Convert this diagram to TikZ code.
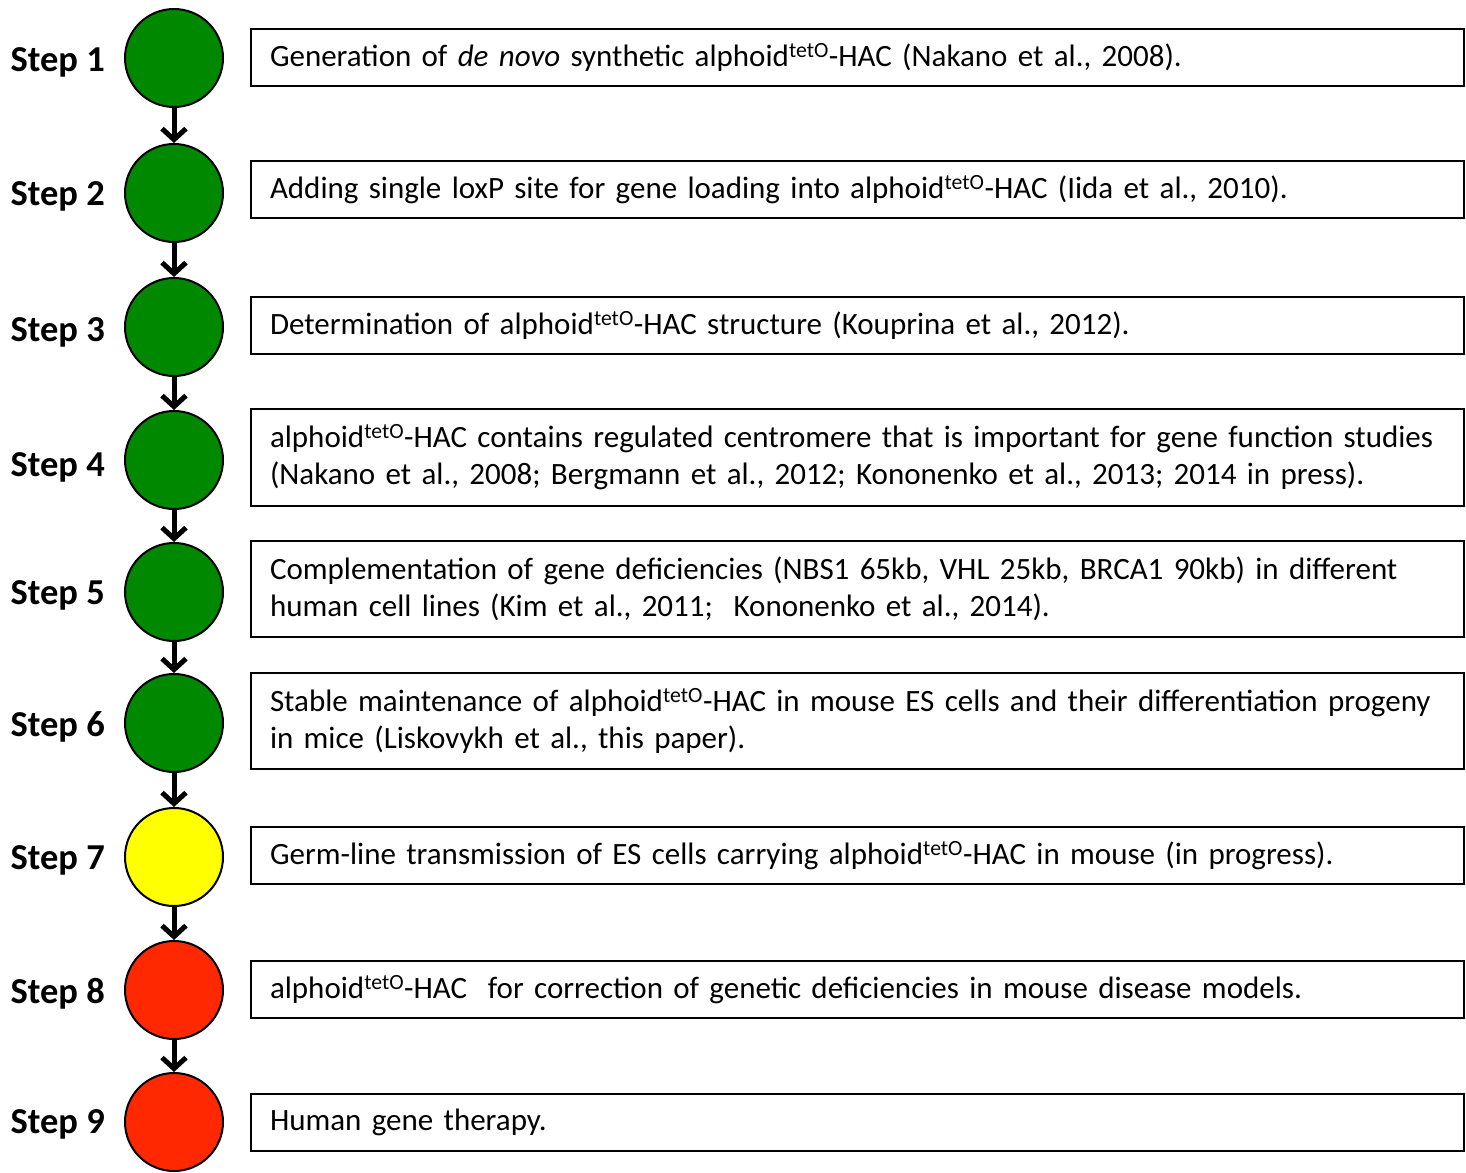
\documentclass[tikz,border=0pt]{standalone}
\usepackage{fontspec}
\setmainfont{Carlito}
\usetikzlibrary{arrows.meta}
\definecolor{sgreen}{RGB}{0,136,0}
\definecolor{syellow}{RGB}{255,255,0}
\definecolor{sred}{RGB}{255,40,0}
\tikzset{
  stepcirc/.style={circle, draw=black, line width=2pt, minimum size=98pt, inner sep=0pt},
  steplabel/.style={anchor=east, font=\fontsize{36.5}{40}\selectfont\bfseries, inner sep=0pt},
  stepbox/.style={draw=black, line width=2pt, anchor=north west, minimum width=1213pt,
    text width=1175pt, inner xsep=19pt, align=left, font=\fontsize{31}{37}\selectfont},
  steparrow/.style={line width=5pt, -{Straight Barb[length=11pt,width=24pt,line width=5pt]}}
}
\newcommand{\tet}{\textsuperscript{tetO}}
\begin{document}
\begin{tikzpicture}[x=1pt,y=-1pt]
\useasboundingbox (0,0) rectangle (1466,1172);
% circles
\node[stepcirc, fill=sgreen] (c1) at (174,58) {};
\node[stepcirc, fill=sgreen] (c2) at (174,193) {};
\node[stepcirc, fill=sgreen] (c3) at (174,327) {};
\node[stepcirc, fill=sgreen] (c4) at (174,460) {};
\node[stepcirc, fill=sgreen] (c5) at (174,592) {};
\node[stepcirc, fill=sgreen] (c6) at (174,723) {};
\node[stepcirc, fill=syellow] (c7) at (174,857) {};
\node[stepcirc, fill=sred] (c8) at (174,990) {};
\node[stepcirc, fill=sred] (c9) at (174,1122) {};
% labels
\foreach \i/\y in {1/62,2/196,3/332,4/467,5/595,6/727,7/860,8/994,9/1124}{
  \node[steplabel] (l\i) at (105,\y) {Step \i};
}
% arrows
\foreach \a/\b in {1/2,2/3,3/4,4/5,5/6,6/7,7/8,8/9}{
  \draw[steparrow] (c\a.south) -- (c\b.north);
}
% boxes
\node[stepbox, minimum height=57pt] (b1) at (250,28) {Generation of \textit{de novo} synthetic alphoid\tet-HAC (Nakano et al., 2008).};
\node[stepbox, minimum height=57pt] (b2) at (250,160) {Adding single loxP site for gene loading into alphoid\tet-HAC (Iida et al., 2010).};
\node[stepbox, minimum height=57pt] (b3) at (250,296) {Determination of alphoid\tet-HAC structure (Kouprina et al., 2012).};
\node[stepbox, minimum height=97pt] (b4) at (250,408) {alphoid\tet-HAC contains regulated centromere that is important for gene function studies\\(Nakano et al., 2008; Bergmann et al., 2012; Kononenko et al., 2013; 2014 in press).};
\node[stepbox, minimum height=96pt] (b5) at (250,540) {Complementation of gene deficiencies (NBS1 65kb, VHL 25kb, BRCA1 90kb) in different\\human cell lines (Kim et al., 2011;\ \ Kononenko et al., 2014).};
\node[stepbox, minimum height=96pt] (b6) at (250,672) {Stable maintenance of alphoid\tet-HAC in mouse ES cells and their differentiation progeny\\in mice (Liskovykh et al., this paper).};
\node[stepbox, minimum height=57pt] (b7) at (250,826) {Germ-line transmission of ES cells carrying alphoid\tet-HAC in mouse (in progress).};
\node[stepbox, minimum height=57pt] (b8) at (250,960) {alphoid\tet-HAC\ \ for correction of genetic deficiencies in mouse disease models.};
\node[stepbox, minimum height=57pt] (b9) at (250,1093) {Human gene therapy.};
\end{tikzpicture}
\end{document}
